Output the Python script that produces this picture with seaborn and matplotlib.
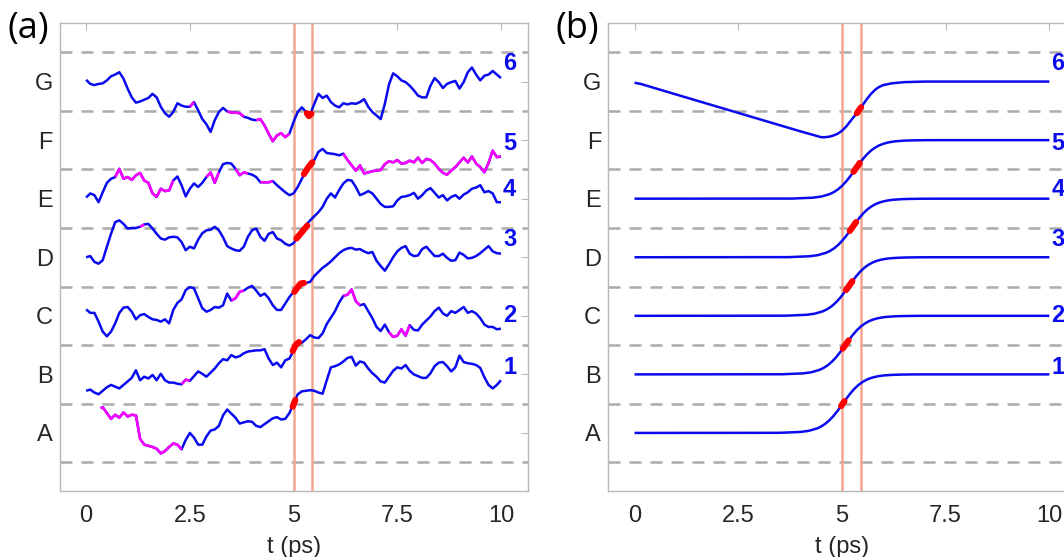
import numpy as np
import pandas as pd
import matplotlib
matplotlib.use("Agg")
import matplotlib.pyplot as plt
import seaborn as sns

# ---------------- data ----------------
STATE_LABELS = ["A", "B", "C", "D", "E", "F", "G"]
STATE_LEVELS = [1, 2, 3, 4, 5, 6, 7]
BOUNDARIES = [0.5, 1.5, 2.5, 3.5, 4.5, 5.5, 6.5, 7.5]
XTICKS = [0, 2.5, 5, 7.5, 10]
XTICK_LABELS = ["0", "2.5", "5", "7.5", "10"]
WINDOW = [5.0, 5.45]
TRAJ_NAMES = ["1", "2", "3", "4", "5", "6"]
LABEL_Y = [2.12, 3.0, 4.31, 5.15, 5.95, 7.3]
LABEL_X = 10.05

# panel (a): noisy trajectories sampled every 0.1 ps
T_GRID = np.round(np.arange(0, 101) * 0.1, 1)

a_y6 = [7.03, 6.96, 6.94, 6.96, 6.97, 7.02, 7.09, 7.12, 7.16, 7.05,
        6.88, 6.73, 6.64, 6.66, 6.69, 6.72, 6.79, 6.73, 6.57, 6.46,
        6.40, 6.48, 6.63, 6.59, 6.57, 6.57, 6.65, 6.51, 6.36, 6.27,
        6.14, 6.34, 6.48, 6.55, 6.49, 6.47, 6.47, 6.46, 6.40, 6.38,
        6.35, 6.34, 6.36, 6.25, 6.11, 5.98, 6.08, 6.12, 6.05, 6.11,
        6.31, 6.48, 6.56, 6.48, 6.44, 6.62, 6.79, 6.72, 6.76, 6.65,
        6.59, 6.56, 6.63, 6.61, 6.63, 6.62, 6.65, 6.70, 6.57, 6.48,
        6.42, 6.36, 6.62, 6.95, 7.14, 7.09, 7.02, 6.99, 6.93, 6.85,
        6.76, 6.73, 6.73, 6.93, 7.06, 6.99, 6.89, 6.96, 6.99, 7.01,
        6.88, 6.99, 7.16, 7.24, 7.12, 7.02, 7.10, 7.12, 7.18, 7.12, 7.06]
a_y5 = [5.02, 5.09, 5.06, 4.94, 5.11, 5.27, 5.34, 5.37, 5.51, 5.34,
        5.37, 5.32, 5.40, 5.44, 5.31, 5.27, 5.09, 5.03, 5.17, 5.13,
        5.14, 5.31, 5.38, 5.23, 5.04, 5.17, 5.26, 5.20, 5.27, 5.37,
        5.45, 5.27, 5.45, 5.59, 5.61, 5.60, 5.51, 5.40, 5.45, 5.43,
        5.41, 5.37, 5.28, 5.28, 5.28, 5.30, 5.23, 5.17, 5.11, 5.06,
        5.09, 5.20, 5.34, 5.48, 5.59, 5.66, 5.80, 5.85, 5.78, 5.77,
        5.76, 5.74, 5.77, 5.66, 5.57, 5.48, 5.57, 5.43, 5.45, 5.47,
        5.48, 5.49, 5.59, 5.64, 5.62, 5.66, 5.60, 5.61, 5.65, 5.62,
        5.70, 5.61, 5.68, 5.66, 5.60, 5.51, 5.44, 5.41, 5.48, 5.54,
        5.62, 5.70, 5.62, 5.72, 5.60, 5.54, 5.45, 5.61, 5.82, 5.71, 5.72]
a_y4 = [4.00, 4.02, 3.92, 3.89, 3.95, 4.18, 4.40, 4.60, 4.63, 4.57,
        4.49, 4.50, 4.50, 4.52, 4.56, 4.57, 4.49, 4.40, 4.32, 4.30,
        4.34, 4.35, 4.34, 4.26, 4.12, 4.18, 4.15, 4.30, 4.41, 4.46,
        4.47, 4.52, 4.46, 4.34, 4.19, 4.15, 4.12, 4.11, 4.18, 4.35,
        4.46, 4.49, 4.35, 4.28, 4.40, 4.43, 4.32, 4.29, 4.23, 4.20,
        4.24, 4.35, 4.43, 4.55, 4.63, 4.70, 4.77, 4.86, 5.00, 5.09,
        5.02, 5.15, 5.26, 5.32, 5.31, 5.20, 5.06, 5.09, 5.13, 5.09,
        5.00, 4.91, 4.86, 4.86, 4.87, 4.97, 5.03, 5.04, 5.06, 5.10,
        5.00, 5.06, 5.14, 5.18, 5.10, 5.02, 5.06, 4.97, 5.03, 5.06,
        5.00, 5.07, 5.11, 5.17, 5.19, 5.23, 5.11, 5.13, 5.09, 4.94, 4.94]
a_y3 = [3.11, 3.05, 3.05, 2.90, 2.73, 2.65, 2.73, 2.87, 3.05, 3.14,
        3.15, 3.07, 2.94, 3.01, 3.03, 2.98, 2.94, 2.93, 2.90, 2.94,
        2.87, 3.10, 3.22, 3.28, 3.44, 3.49, 3.47, 3.30, 3.13, 3.07,
        3.10, 3.15, 3.14, 3.18, 3.38, 3.26, 3.30, 3.41, 3.43, 3.48,
        3.51, 3.43, 3.34, 3.38, 3.30, 3.18, 3.10, 3.10, 3.21, 3.32,
        3.41, 3.49, 3.55, 3.56, 3.58, 3.68, 3.75, 3.82, 3.87, 3.93,
        4.00, 4.07, 4.12, 4.15, 4.16, 4.13, 4.14, 4.10, 4.07, 4.09,
        3.94, 3.85, 3.77, 3.88, 4.00, 4.10, 4.16, 4.19, 4.06, 4.02,
        4.03, 4.14, 4.18, 4.10, 4.02, 4.02, 4.06, 3.99, 3.94, 3.95,
        4.08, 4.04, 3.98, 3.99, 4.02, 4.07, 4.13, 4.19, 4.10, 4.07, 4.06]
a_y2 = [1.72, 1.74, 1.69, 1.66, 1.72, 1.78, 1.82, 1.79, 1.76, 1.82,
        1.88, 1.94, 2.07, 1.90, 1.96, 1.93, 1.99, 1.90, 2.01, 1.90,
        1.86, 1.86, 1.84, 1.83, 1.91, 1.89, 1.97, 2.05, 2.01, 1.96,
        2.03, 2.10, 2.19, 2.26, 2.24, 2.33, 2.29, 2.31, 2.36, 2.39,
        2.40, 2.41, 2.41, 2.43, 2.27, 2.16, 2.20, 2.12, 2.24, 2.27,
        2.41, 2.52, 2.54, 2.60, 2.67, 2.63, 2.62, 2.70, 2.86, 2.97,
        3.08, 3.23, 3.34, 3.36, 3.45, 3.25, 3.18, 3.20, 3.08, 2.96,
        2.81, 2.74, 2.85, 2.72, 2.64, 2.66, 2.77, 2.66, 2.84, 2.76,
        2.75, 2.85, 2.92, 2.99, 3.08, 3.14, 3.04, 3.00, 3.08, 3.05,
        3.10, 3.15, 3.05, 3.08, 3.04, 2.96, 2.85, 2.81, 2.81, 2.77, 2.78]
a_t1 = [0.35] + list(T_GRID[4:])
a_y1 = [1.42, 1.44, 1.34, 1.24, 1.31, 1.26, 1.35,
        1.28, 1.31, 1.30, 0.90, 0.80, 0.78, 0.76, 0.73, 0.65, 0.69,
        0.76, 0.82, 0.80, 0.72, 0.88, 1.00, 0.92, 0.80, 0.80, 0.94,
        1.04, 1.06, 1.12, 1.30, 1.40, 1.33, 1.26, 1.16, 1.18, 1.20,
        1.19, 1.12, 1.10, 1.15, 1.20, 1.25, 1.27, 1.23, 1.24, 1.34,
        1.50, 1.66, 1.71, 1.72, 1.73, 1.72, 1.69, 1.67, 1.90, 2.12,
        2.14, 2.17, 2.22, 2.28, 2.30, 2.15, 2.22, 2.20, 2.10, 2.02,
        1.96, 1.88, 1.86, 1.96, 2.06, 2.12, 2.10, 2.16, 2.06, 2.00,
        1.97, 1.94, 1.94, 2.02, 2.14, 2.20, 2.21, 2.14, 2.05, 2.12,
        2.32, 2.21, 2.19, 2.18, 2.16, 2.11, 1.95, 1.82, 1.76, 1.82, 1.90]

A_TIMES = [a_t1, T_GRID, T_GRID, T_GRID, T_GRID, T_GRID]
A_VALUES = [a_y1, a_y2, a_y3, a_y4, a_y5, a_y6]

# time ranges drawn in magenta (panel a)
A_MAGENTA = [
    [(0.35, 2.3)],
    [(2.3, 2.5), (6.2, 6.6), (7.3, 7.8)],
    [(3.5, 3.8)],
    [(1.3, 1.4)],
    [(0.7, 2.1), (2.9, 3.2), (3.6, 3.9), (4.2, 4.5), (6.2, 10.0)],
    [(2.5, 2.6), (3.4, 3.8), (4.1, 4.9)],
]

# red crossing segments (panel a)
A_RED_T = [[4.98, 5.04], [4.98, 5.05, 5.13], [5.02, 5.10, 5.17, 5.25],
           [5.07, 5.20, 5.33], [5.25, 5.35, 5.45], [5.32, 5.37, 5.43]]
A_RED_Y = [[1.45, 1.56], [2.40, 2.50, 2.55], [3.41, 3.49, 3.55, 3.56],
           [4.32, 4.43, 4.54], [5.42, 5.53, 5.62], [6.46, 6.41, 6.45]]

# panel (b): idealised transitions
b_t1 = [0, 3.5, 4.0, 4.2, 4.4, 4.5, 4.6, 4.7, 4.8, 4.9, 5.0, 5.1, 5.2, 5.3,
        5.4, 5.5, 5.6, 5.7, 5.8, 5.9, 6.0, 6.2, 6.4, 6.7, 7.0, 10]
b_y1 = [1.0, 1.002, 1.017, 1.036, 1.077, 1.111, 1.157, 1.218, 1.293, 1.382,
        1.48, 1.579, 1.673, 1.754, 1.821, 1.872, 1.911, 1.938, 1.958, 1.971,
        1.981, 1.991, 1.996, 1.999, 2.0, 2.0]
b_t2 = [0, 3.56, 4.06, 4.26, 4.46, 4.56, 4.66, 4.76, 4.86, 4.96, 5.06, 5.16,
        5.26, 5.36, 5.46, 5.56, 5.66, 5.76, 5.86, 5.96, 6.06, 6.26, 6.46,
        6.76, 7.06, 10]
b_y2 = [2.0, 2.002, 2.017, 2.036, 2.077, 2.111, 2.157, 2.218, 2.293, 2.382,
        2.48, 2.579, 2.673, 2.754, 2.821, 2.872, 2.911, 2.938, 2.958, 2.971,
        2.981, 2.991, 2.996, 2.999, 3.0, 3.0]
b_t3 = [0, 3.64, 4.14, 4.34, 4.54, 4.64, 4.74, 4.84, 4.94, 5.04, 5.14, 5.24,
        5.34, 5.44, 5.54, 5.64, 5.74, 5.84, 5.94, 6.04, 6.14, 6.34, 6.54,
        6.84, 7.14, 10]
b_y3 = [3.0, 3.002, 3.017, 3.036, 3.077, 3.111, 3.157, 3.218, 3.293, 3.382,
        3.48, 3.579, 3.673, 3.754, 3.821, 3.872, 3.911, 3.938, 3.958, 3.971,
        3.981, 3.991, 3.996, 3.999, 4.0, 4.0]
b_t4 = [0, 3.72, 4.22, 4.42, 4.62, 4.72, 4.82, 4.92, 5.02, 5.12, 5.22, 5.32,
        5.42, 5.52, 5.62, 5.72, 5.82, 5.92, 6.02, 6.12, 6.22, 6.42, 6.62,
        6.92, 7.22, 10]
b_y4 = [4.0, 4.002, 4.017, 4.036, 4.077, 4.111, 4.157, 4.218, 4.293, 4.382,
        4.48, 4.579, 4.673, 4.754, 4.821, 4.872, 4.911, 4.938, 4.958, 4.971,
        4.981, 4.991, 4.996, 4.999, 5.0, 5.0]
b_t5 = [0, 3.8, 4.3, 4.5, 4.7, 4.8, 4.9, 5.0, 5.1, 5.2, 5.3, 5.4, 5.5, 5.6,
        5.7, 5.8, 5.9, 6.0, 6.1, 6.2, 6.3, 6.5, 6.7, 7.0, 7.3, 10]
b_y5 = [5.0, 5.002, 5.017, 5.036, 5.077, 5.111, 5.157, 5.218, 5.293, 5.382,
        5.48, 5.579, 5.673, 5.754, 5.821, 5.872, 5.911, 5.938, 5.958, 5.971,
        5.981, 5.991, 5.996, 5.999, 6.0, 6.0]
b_t6 = [0, 0.15, 1, 2, 3, 4, 4.2, 4.4, 4.5, 4.6, 4.7, 4.8, 4.9, 5.0, 5.1,
        5.2, 5.3, 5.4, 5.5, 5.6, 5.7, 5.8, 5.9, 6.0, 6.2, 6.5, 7.0, 10]
b_y6 = [6.98, 6.96, 6.78, 6.57, 6.36, 6.15, 6.11, 6.07, 6.05, 6.05, 6.06,
        6.08, 6.11, 6.16, 6.23, 6.32, 6.41, 6.50, 6.60, 6.70, 6.79, 6.86,
        6.91, 6.94, 6.97, 6.99, 7.0, 7.0]

B_TIMES = [b_t1, b_t2, b_t3, b_t4, b_t5, b_t6]
B_VALUES = [b_y1, b_y2, b_y3, b_y4, b_y5, b_y6]

B_RED_T = [[4.98, 5.06], [5.02, 5.16], [5.10, 5.25], [5.19, 5.34],
           [5.28, 5.43], [5.36, 5.46]]
B_RED_Y = [[1.46, 1.54], [2.44, 2.58], [3.44, 3.59], [4.45, 4.60],
           [5.46, 5.61], [6.46, 6.56]]

# ---------------- style ----------------
sns.set_theme(style="white")
plt.rcParams["font.family"] = ["Liberation Sans", "DejaVu Sans"]

BLUE = "#0a0aee"
MAGENTA = "#ff00ff"
RED = "#ff0000"
ORANGE = "#f2a690"
GREY_DASH = "#ababab"
SPINE = "#b8b8b8"

fig = plt.figure(figsize=(10.64, 5.57), dpi=100)
ax_a = fig.add_axes([0.056, 0.1176, 0.4402, 0.8411])
ax_b = fig.add_axes([0.5714, 0.1176, 0.4402, 0.8411])


def style_axes(ax):
    ax.set_xlim(-0.64, 10.65)
    ax.set_ylim(0, 8)
    ax.set_xticks(XTICKS)
    ax.set_xticklabels(XTICK_LABELS)
    ax.set_yticks(STATE_LEVELS)
    ax.set_yticklabels(STATE_LABELS)
    for s in ax.spines.values():
        s.set_visible(True)
        s.set_color(SPINE)
        s.set_linewidth(1.0)
    ax.tick_params(axis="both", direction="in", length=5, width=0.8,
                   color=SPINE, top=True, right=True, labelsize=17,
                   labelcolor="#262626")
    ax.tick_params(axis="x", pad=10)
    ax.tick_params(axis="y", pad=5)
    for b in BOUNDARIES:
        ax.axhline(b, color=GREY_DASH, lw=1.8, ls=(0, (4.8, 3.6)), zorder=1)
    for w in WINDOW:
        ax.axvline(w, color=ORANGE, lw=1.8, zorder=2)
    for name, yl in zip(TRAJ_NAMES, LABEL_Y):
        ax.text(LABEL_X, yl, name, color=BLUE, fontsize=17,
                fontweight="bold", ha="left", va="center", zorder=6)


def finish_axes(ax):
    ax.set_xlabel("t (ps)", fontsize=17, color="#262626", labelpad=6)
    ax.set_ylabel("")


def draw_line(ax, t, y, color, lw, z, cap="butt"):
    df = pd.DataFrame({"t": t, "y": y})
    sns.lineplot(data=df, x="t", y="y", ax=ax, color=color, lw=lw,
                 estimator=None, sort=False, zorder=z,
                 solid_capstyle=cap, solid_joinstyle="round")


# panel (a)
style_axes(ax_a)
for t, y, mag, rt, ry in zip(A_TIMES, A_VALUES, A_MAGENTA, A_RED_T, A_RED_Y):
    t = np.asarray(t, dtype=float)
    y = np.asarray(y, dtype=float)
    draw_line(ax_a, t, y, BLUE, 1.8, 3)
    for lo, hi in mag:
        m = (t >= lo - 1e-9) & (t <= hi + 1e-9)
        if m.sum() >= 2:
            draw_line(ax_a, t[m], y[m], MAGENTA, 1.8, 4)
    draw_line(ax_a, rt, ry, RED, 4.5, 5, cap="round")
finish_axes(ax_a)

# panel (b)
style_axes(ax_b)
for t, y, rt, ry in zip(B_TIMES, B_VALUES, B_RED_T, B_RED_Y):
    draw_line(ax_b, t, y, BLUE, 1.8, 3)
    draw_line(ax_b, rt, ry, RED, 4.5, 5, cap="round")
finish_axes(ax_b)

fig.text(0.007, 0.948, "(a)", fontsize=26, family=["Open Sans", "DejaVu Sans"],
         ha="left", va="center", color="black")
fig.text(0.522, 0.948, "(b)", fontsize=26, family=["Open Sans", "DejaVu Sans"],
         ha="left", va="center", color="black")

fig.savefig("out.png", dpi=100)
